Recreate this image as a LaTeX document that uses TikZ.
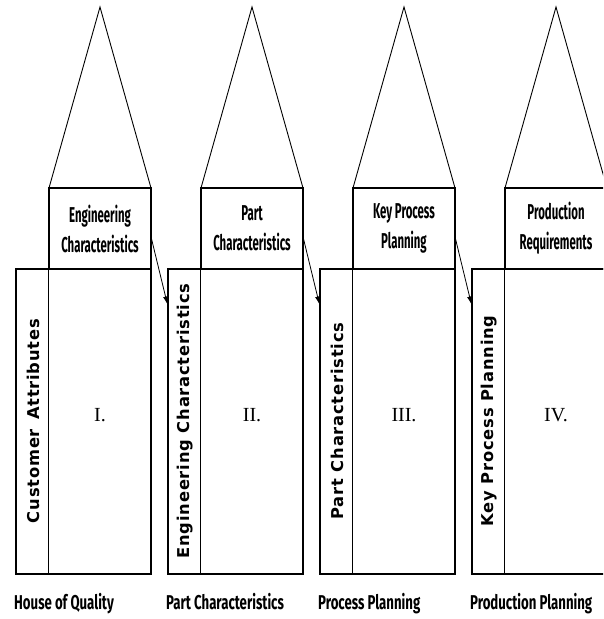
\documentclass[tikz,border=0pt]{standalone}
\usepackage{fontspec}
\usetikzlibrary{arrows.meta}
\newfontfamily\condfont[FakeStretch=0.53]{Fira Sans}
\newfontfamily\botfont[FakeStretch=0.66]{Fira Sans}
\newfontfamily\vfont[LetterSpace=5]{DejaVu Sans}
\newfontfamily\numfont{Liberation Serif}
\begin{document}
\begin{tikzpicture}[x=1pt,y=-1pt,
 tri/.style={line width=0.9pt, line join=miter},
 hdr/.style={draw, line width=1.1pt, minimum width=102pt, minimum height=81pt, inner sep=0pt, align=center, font=\condfont\bfseries\fontsize{21.5}{30}\selectfont},
 mainbox/.style={draw, line width=1.1pt, minimum width=135pt, minimum height=305pt, inner sep=0pt},
 vlab/.style={rotate=90, font=\vfont\bfseries\fontsize{16.3}{20}\selectfont, inner sep=0pt},
 numlab/.style={font=\numfont\fontsize{20}{22}\selectfont, anchor=base, inner sep=0pt},
 botlab/.style={font=\botfont\bfseries\fontsize{20}{22}\selectfont, anchor=base west, inner sep=0pt},
 arr/.style={line width=0.8pt, -{Latex[length=8pt,width=5pt]}}
]
\clip (0,0) rectangle (603,619);
\fill[white] (0,0) rectangle (603,619);
\foreach \i/\hd/\vt/\num/\lab in {
 0/{Engineering\\Characteristics}/{Customer\hspace{9pt}Attributes}/I./{House of Quality},
 1/{Part\\Characteristics}/{Engineering Characteristics}/II./{Part Characteristics},
 2/{Key Process\\Planning}/{Part Characteristics}/III./{Process Planning},
 3/{Production\\Requirements}/{Key Process Planning}/IV./{Production Planning}}
{
 \pgfmathsetmacro\dx{152*\i}
 \draw[tri] (49+\dx,188) -- (100+\dx,7) -- (151+\dx,188);
 \node[hdr] (h\i) at (100+\dx,228.5) {\hd};
 \node[mainbox] (m\i) at (83.5+\dx,421.5) {};
 \draw[line width=1.1pt] (h\i.south west) -- (h\i.south west |- m\i.south);
 \node[vlab] (v\i) at (33+\dx,421) {\vt};
 \node[numlab] (n\i) at (100+\dx,421) {\num};
 \node[botlab] (b\i) at (14+\dx,609) {\lab};
}
\foreach \i/\j in {0/1,1/2,2/3}
 \draw[arr] ([yshift=-10.5pt]h\i.east) -- ([yshift=-36pt]m\j.north west);
\end{tikzpicture}
\end{document}
